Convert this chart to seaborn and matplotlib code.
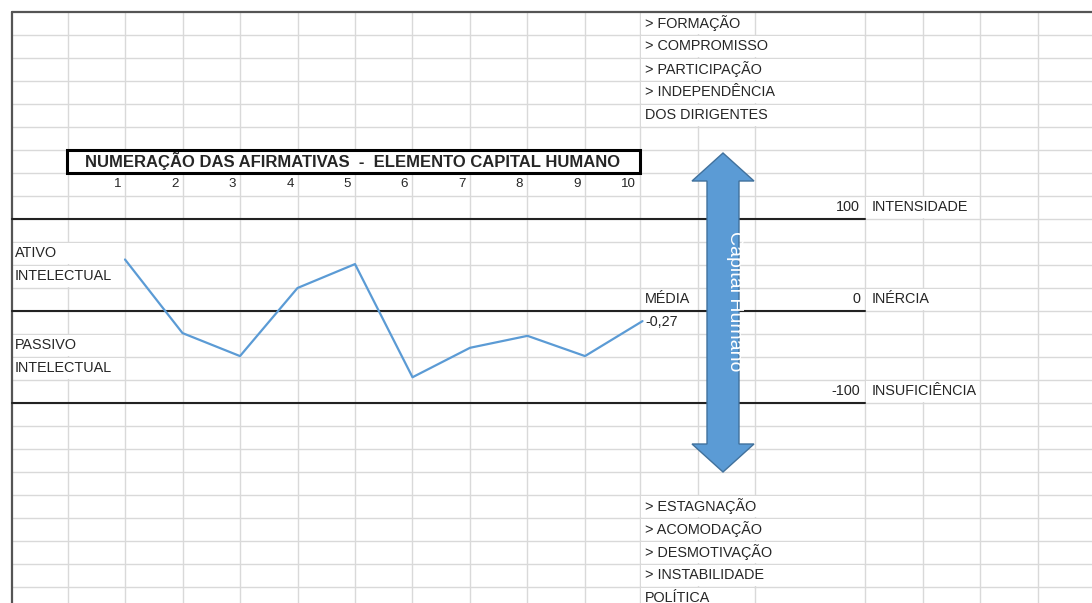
import numpy as np
import pandas as pd
import seaborn as sns
import matplotlib.pyplot as plt
from matplotlib.patches import Polygon, Rectangle

# Data
afirmativas = [1, 2, 3, 4, 5, 6, 7, 8, 9, 10]
valores = [56, -24, -49, 25, 51, -72, -40, -27, -49, -11]
titulo = 'NUMERAÇÃO DAS AFIRMATIVAS  -  ELEMENTO CAPITAL HUMANO'
topo = ['> FORMAÇÃO', '> COMPROMISSO', '> PARTICIPAÇÃO', '> INDEPENDÊNCIA', 'DOS DIRIGENTES']
base = ['> ESTAGNAÇÃO', '> ACOMODAÇÃO', '> DESMOTIVAÇÃO', '> INSTABILIDADE', 'POLÍTICA']
niveis = [100, 0, -100]
niveis_txt = ['INTENSIDADE', 'INÉRCIA', 'INSUFICIÊNCIA']
media_txt = '-0,27'

df = pd.DataFrame({'Afirmativa': afirmativas, 'Valor': valores})

sns.set_theme(style='white')
plt.rcParams['font.family'] = ['Liberation Sans', 'DejaVu Sans']

W, H = 1092, 603
fig = plt.figure(figsize=(W / 100, H / 100), dpi=100)
ax = fig.add_axes([0, 0, 1, 1])
ax.set_xlim(0, W)
ax.set_ylim(H, 0)
ax.axis('off')

# spreadsheet grid
row_h = 23.0
y0 = 12
cols = [12, 68, 125, 183, 240, 298, 355, 412, 470, 527, 585, 640, 698, 755, 865, 923, 980, 1038]
grid = '#d9d9d9'
for x in cols[1:]:
    ax.plot([x, x], [y0, H], color=grid, lw=1.0, zorder=1)
y = y0 + row_h
while y < H:
    ax.plot([y0, W], [y, y], color=grid, lw=1.0, zorder=1)
    y += row_h
ax.plot([12, W], [12, 12], color='#555555', lw=1.6, zorder=3)
ax.plot([12, 12], [12, H], color='#555555', lw=1.6, zorder=3)


def row_c(r):
    return y0 + row_h * r + row_h / 2 - 0.5


def blank(x1, x2, r):
    # text spilling over neighbour cells hides the gridlines, like in Excel
    ax.add_patch(Rectangle((x1 + 1, y0 + row_h * r + 1.2), x2 - x1 - 2, row_h - 2.4,
                           facecolor='white', edgecolor='none', zorder=2))


fs = 10.4
tc = '#262626'
for rows, textos in [(range(0, 5), topo), (range(21, 26), base)]:
    for r, t in zip(rows, textos):
        blank(640, 755 if len(t) <= 11 else 865, r)
        ax.text(645, row_c(r), t, fontsize=fs, va='center', ha='left', color=tc, zorder=4)

# title box
ax.add_patch(Rectangle((67, 150), 573, 23, facecolor='white', edgecolor='black', lw=2.2, zorder=3))
ax.text(353, 160.5, titulo, fontsize=12.0, fontweight='bold', ha='center', va='center', zorder=4)

# column numbers
for i, n in enumerate(afirmativas):
    ax.text(cols[i + 2] - 4, row_c(7), str(n), fontsize=fs - 0.8, ha='right', va='center', color=tc, zorder=4)

# level lines and labels
for lvl, txt, r in zip(niveis, niveis_txt, [8, 12, 16]):
    yl = y0 + row_h * (r + 1)
    ax.plot([12, 865], [yl, yl], color='#222222', lw=1.5, zorder=3)
    ax.text(860, row_c(r), str(lvl), fontsize=fs, ha='right', va='center', color=tc, zorder=4)
    blank(865, 980, r)
    ax.text(872, row_c(r), txt, fontsize=fs, ha='left', va='center', color=tc, zorder=4)

for r, t in [(10, 'ATIVO'), (11, 'INTELECTUAL'), (14, 'PASSIVO'), (15, 'INTELECTUAL')]:
    blank(12, 125, r)
    ax.text(15, row_c(r), t, fontsize=fs, ha='left', va='center', color=tc, zorder=4)

ax.text(645, row_c(12), 'MÉDIA', fontsize=fs, ha='left', va='center', color=tc, zorder=4)
ax.text(645, row_c(13), media_txt, fontsize=fs, ha='left', va='center', color=tc, zorder=4)

# double arrow
cx = 723
arrow = [(cx, 153), (cx + 31, 181), (cx + 16, 181), (cx + 16, 444), (cx + 31, 444), (cx, 472),
         (cx - 31, 444), (cx - 16, 444), (cx - 16, 181), (cx - 31, 181)]
ax.add_patch(Polygon(arrow, closed=True, facecolor='#5b9bd5', edgecolor='#41719c', lw=1.0, zorder=5))
ax.text(735, 301, 'Capital Humano', rotation=-90, fontsize=14, color='white',
        ha='center', va='center', zorder=6)

# the line chart, on axes aligned to the sheet cells
x_left, x_right = 125, 642.5
y_top, y_bot = 219, 403
ax2 = fig.add_axes([x_left / W, (H - y_bot) / H, (x_right - x_left) / W, (y_bot - y_top) / H])
ax2.patch.set_alpha(0)
sns.lineplot(data=df, x='Afirmativa', y='Valor', ax=ax2, color='#5b9bd5', linewidth=1.6)
ax2.set_xlim(1, 10)
ax2.set_ylim(-100, 100)
ax2.axis('off')
for ln in ax2.lines:
    ln.set_clip_on(False)

fig.savefig('out.png', dpi=100)
